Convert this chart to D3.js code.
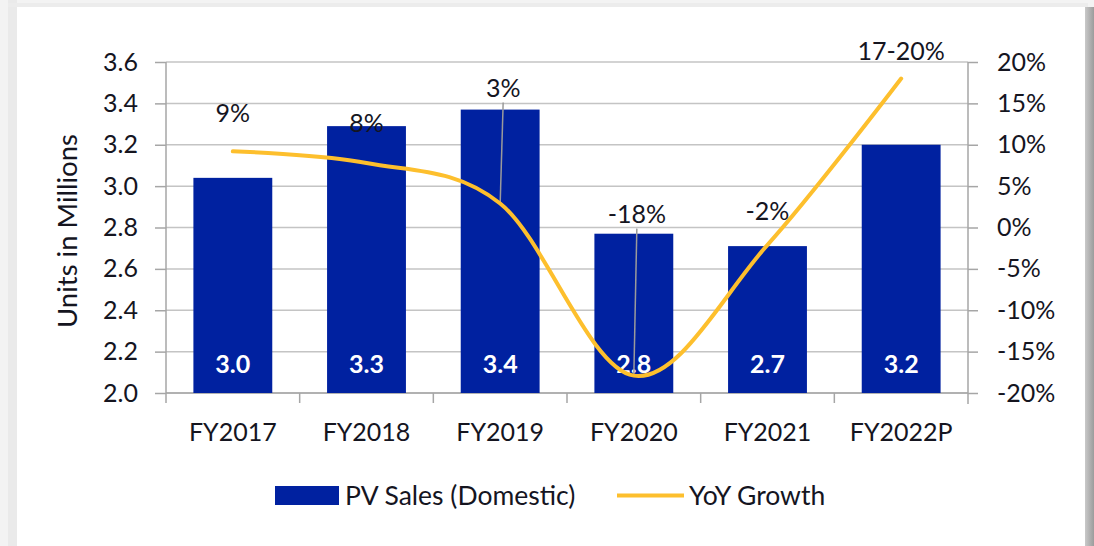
<!DOCTYPE html>
<html>
<head>
<meta charset="utf-8">
<script src="https://cdn.jsdelivr.net/npm/d3@7/dist/d3.min.js"></script>
<style>
  html, body { margin: 0; padding: 0; background: #f3f3f3; }
  svg { display: block; }
  text { font-family: Lato, "Open Sans", sans-serif; fill: #15151f; }
</style>
</head>
<body>
<svg id="chart" width="1094" height="546"></svg>
<script>
// ---- data ----
const categories = ["FY2017", "FY2018", "FY2019", "FY2020", "FY2021", "FY2022P"];
const salesValues = [3.04, 3.29, 3.37, 2.77, 2.71, 3.20];
const salesLabels = ["3.0", "3.3", "3.4", "2.8", "2.7", "3.2"];
const growthValues = [9.2, 7.8, 2.9, -17.9, -2.1, 18.0];
const growthLabels = ["9%", "8%", "3%", "-18%", "-2%", "17-20%"];
const leftTicks = [2.0, 2.2, 2.4, 2.6, 2.8, 3.0, 3.2, 3.4, 3.6];
const rightTicks = [-20, -15, -10, -5, 0, 5, 10, 15, 20];
const seriesNames = ["PV Sales (Domestic)", "YoY Growth"];

// ---- layout / style ----
const W = 1094, H = 546;
const plot = { left: 166, right: 968, top: 62, bottom: 393 };
const barColor = "#0021a0";
const lineColor = "#fdbf2d";
const gridColor = "#c4c4c4";
const axisColor = "#a6a6a6";
const fsTick = 25, fsWord = 26.5;
// how far each growth label sits above its point, and whether it has a leader line
const labelLift = [38, 40, 116, 162, 34, 28];
const leader = [false, false, true, true, false, false];

const svg = d3.select("#chart");

// page background & card with shadow
const defs = svg.append("defs");
const gRight = defs.append("linearGradient").attr("id", "shadowR").attr("x1", 0).attr("x2", 1);
gRight.append("stop").attr("offset", 0).attr("stop-color", "#c9c9c9");
gRight.append("stop").attr("offset", 1).attr("stop-color", "#9c9c9c");
svg.append("rect").attr("x", 0).attr("y", 0).attr("width", W).attr("height", H).attr("fill", "#f3f3f3");
svg.append("rect").attr("x", 8).attr("y", 0).attr("width", 9).attr("height", H).attr("fill", "#eaeaea");
svg.append("rect").attr("x", 8).attr("y", 3).attr("width", 1080).attr("height", 4).attr("fill", "#ececec");
svg.append("rect").attr("x", 1085).attr("y", 7).attr("width", 9).attr("height", H).attr("fill", "url(#shadowR)");
svg.append("rect").attr("x", 17).attr("y", 7).attr("width", 1068).attr("height", H).attr("fill", "#ffffff");

// scales
const x = d3.scaleBand().domain(categories).range([plot.left, plot.right]).paddingInner(0.41).paddingOuter(0.205);
const xBand = d3.scaleBand().domain(categories).range([plot.left, plot.right]);
const yL = d3.scaleLinear().domain([2.0, 3.6]).range([plot.bottom, plot.top]);
const yR = d3.scaleLinear().domain([-20, 20]).range([plot.bottom, plot.top]);

// gridlines
svg.append("g").selectAll("line").data(leftTicks).join("line")
  .attr("x1", plot.left).attr("x2", plot.right)
  .attr("y1", d => yL(d)).attr("y2", d => yL(d))
  .attr("stroke", gridColor).attr("stroke-width", 1.5);

// left axis
const axL = d3.axisLeft(yL).tickValues(leftTicks).tickFormat(d3.format(".1f")).tickSize(11).tickPadding(17);
const gL = svg.append("g").attr("transform", `translate(${plot.left},0)`).call(axL);
gL.select(".domain").remove();
gL.selectAll(".tick line").attr("stroke", axisColor).attr("stroke-width", 1.5);
gL.selectAll(".tick text").attr("font-size", fsTick).attr("fill", "#15151f").attr("font-family", "Lato");
svg.append("line").attr("x1", plot.left).attr("x2", plot.left).attr("y1", plot.top).attr("y2", plot.bottom + 10)
  .attr("stroke", axisColor).attr("stroke-width", 1.5);

// right axis
const axR = d3.axisRight(yR).tickValues(rightTicks).tickFormat(d => d + "%").tickSize(10).tickPadding(19);
const gR = svg.append("g").attr("transform", `translate(${plot.right},0)`).call(axR);
gR.select(".domain").remove();
gR.selectAll(".tick line").attr("stroke", axisColor).attr("stroke-width", 1.5);
gR.selectAll(".tick text").attr("font-size", fsTick).attr("fill", "#15151f").attr("font-family", "Lato");
svg.append("line").attr("x1", plot.right).attr("x2", plot.right).attr("y1", plot.top).attr("y2", plot.bottom + 11)
  .attr("stroke", axisColor).attr("stroke-width", 1.5);

// bottom axis
svg.append("line").attr("x1", plot.left).attr("x2", plot.right).attr("y1", plot.bottom).attr("y2", plot.bottom)
  .attr("stroke", axisColor).attr("stroke-width", 1.5);
svg.append("g").selectAll("line").data(categories.slice(1)).join("line")
  .attr("x1", d => xBand(d)).attr("x2", d => xBand(d))
  .attr("y1", plot.bottom).attr("y2", plot.bottom + 10)
  .attr("stroke", axisColor).attr("stroke-width", 1.5);
svg.append("g").selectAll("text").data(categories).join("text")
  .attr("x", d => xBand(d) + xBand.bandwidth() / 2).attr("y", 441)
  .attr("text-anchor", "middle").attr("font-size", fsTick).text(d => d);

// bars
svg.append("g").selectAll("rect").data(salesValues).join("rect")
  .attr("x", (d, i) => x(categories[i])).attr("width", x.bandwidth())
  .attr("y", d => yL(d)).attr("height", d => yL(2.0) - yL(d))
  .attr("fill", barColor);

// bar labels
svg.append("g").selectAll("text").data(salesLabels).join("text")
  .attr("x", (d, i) => x(categories[i]) + x.bandwidth() / 2).attr("y", 373)
  .attr("text-anchor", "middle").attr("font-size", 25).attr("font-weight", "bold")
  .style("fill", "#ffffff").text(d => d);

// leader lines
const cx = i => xBand(categories[i]) + xBand.bandwidth() / 2;
svg.append("g").selectAll("line").data(growthValues.map((v, i) => ({ v, i })).filter(d => leader[d.i])).join("line")
  .attr("x1", d => cx(d.i) + 3).attr("y1", d => yR(d.v) - labelLift[d.i] + 15)
  .attr("x2", d => cx(d.i)).attr("y2", d => yR(d.v))
  .attr("stroke", "#9a9a9a").attr("stroke-width", 1.5);

// growth line
const line = d3.line().x((d, i) => cx(i)).y(d => yR(d)).curve(d3.curveCatmullRom.alpha(0));
svg.append("path").datum(growthValues).attr("d", line)
  .attr("fill", "none").attr("stroke", lineColor).attr("stroke-width", 4).attr("stroke-linecap", "round");

// growth labels
svg.append("g").selectAll("text").data(growthLabels).join("text")
  .attr("x", (d, i) => cx(i) + (leader[i] ? 3 : 0))
  .attr("y", (d, i) => yR(growthValues[i]) - labelLift[i] + 9)
  .attr("text-anchor", "middle").attr("font-size", fsTick).text(d => d);

// y axis title
svg.append("text").attr("transform", `translate(77,231) rotate(-90)`)
  .attr("text-anchor", "middle").attr("font-size", 27.5).text("Units in Millions");

// legend
const lg = svg.append("g");
lg.append("rect").attr("x", 275).attr("y", 486).attr("width", 64).attr("height", 19).attr("fill", barColor);
lg.append("text").attr("x", 345).attr("y", 505).attr("font-size", fsWord).text(seriesNames[0]);
lg.append("line").attr("x1", 617).attr("x2", 684).attr("y1", 495.5).attr("y2", 495.5)
  .attr("stroke", lineColor).attr("stroke-width", 4);
lg.append("text").attr("x", 689).attr("y", 505).attr("font-size", fsWord).text(seriesNames[1]);
</script>
</body>
</html>
